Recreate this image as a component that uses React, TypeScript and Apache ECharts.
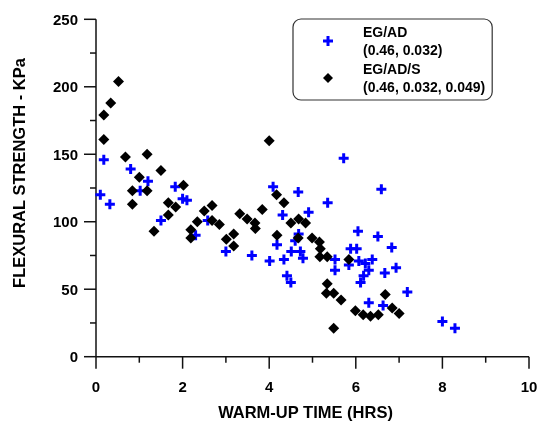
import React, { useEffect, useRef } from "react";
import * as echarts from "echarts";

const egadName = "EG/AD\n(0.46, 0.032)";
const egadsName = "EG/AD/S\n(0.46, 0.032, 0.049)";

const egadX = [0.1, 0.18, 0.32, 0.8, 1.02, 1.2, 1.5, 1.83, 2.0, 2.1, 2.3, 2.58, 3.0, 3.6, 4.01, 4.09, 4.18, 4.31, 4.34, 4.41, 4.5, 4.51, 4.6, 4.67, 4.68, 4.72, 4.78, 4.91, 5.35, 5.52, 5.52, 5.72, 5.84, 5.88, 6.02, 6.05, 6.07, 6.11, 6.18, 6.22, 6.3, 6.3, 6.38, 6.51, 6.59, 6.63, 6.67, 6.83, 6.93, 7.19, 8.0, 8.29];
const egadY = [120, 146, 113, 139, 123, 130, 101, 126, 117, 116, 90, 101, 78, 75, 71, 126, 83, 105, 72, 60, 55, 78, 86, 122, 91, 78, 73, 107, 114, 72, 64, 147, 68, 80, 80, 93, 71, 55, 60, 69, 64, 40, 72, 89, 124, 38, 62, 81, 66, 48, 26, 21];

const egadsX = [0.18, 0.18, 0.34, 0.52, 0.68, 0.84, 0.84, 1.0, 1.18, 1.18, 1.34, 1.5, 1.67, 1.67, 1.84, 2.02, 2.19, 2.19, 2.34, 2.5, 2.68, 2.68, 2.85, 3.01, 3.18, 3.18, 3.32, 3.49, 3.67, 3.68, 3.84, 4.0, 4.17, 4.18, 4.34, 4.5, 4.67, 4.68, 4.84, 4.99, 5.16, 5.18, 5.17, 5.34, 5.34, 5.32, 5.49, 5.49, 5.66, 5.84, 5.99, 6.17, 6.34, 6.52, 6.68, 6.84, 7.0];
const egadsY = [161, 179, 188, 204, 148, 123, 113, 133, 150, 123, 93, 138, 114, 105, 111, 127, 94, 88, 100, 108, 112, 101, 98, 87, 91, 82, 106, 102, 99, 95, 109, 160, 120, 90, 114, 99, 88, 102, 99, 88, 85, 80, 74, 74, 54, 47, 47, 21, 42, 72, 34, 31, 30, 31, 46, 36, 32];

const xMajorTicks = [0, 2, 4, 6, 8, 10];
const xMinorTicks = [1, 3, 5, 7, 9];
const yMajorTicks = [0, 50, 100, 150, 200, 250];
const yMinorTicks = [25, 75, 125, 175, 225];

const crossPath = "path://M3.5,0H6.5V3.5H10V6.5H6.5V10H3.5V6.5H0V3.5H3.5Z";
const FONT = "'Liberation Sans', Arial, sans-serif";
const AXIS_COLOR = "#111111";
const LW = 1.5;

export default function App() {
  const ref = useRef<HTMLDivElement>(null);
  useEffect(() => {
    if (!ref.current) return;
    const chart = echarts.init(ref.current, null, { renderer: "svg" });
    const labelStyle = { fontFamily: FONT, fontWeight: "bold", fontSize: 15, color: "#000" };
    const nameStyle = { fontFamily: FONT, fontWeight: "bold", fontSize: 16.5, color: "#000" };

    const renderAxes = (params: any, api: any) => {
      const o = api.coord([0, 0]);
      const c = api.coord([10, 250]);
      const seg = (x1: number, y1: number, x2: number, y2: number) => ({
        type: "line",
        shape: { x1, y1, x2, y2 },
        style: { stroke: AXIS_COLOR, lineWidth: LW, fill: null },
      });
      const children: any[] = [];
      children.push(seg(o[0], c[1], o[0], o[1]));
      children.push(seg(o[0], o[1], c[0], o[1]));
      xMajorTicks.forEach((v) => {
        const p = api.coord([v, 0]);
        children.push(seg(p[0], o[1], p[0], o[1] + 12));
      });
      xMinorTicks.forEach((v) => {
        const p = api.coord([v, 0]);
        children.push(seg(p[0], o[1], p[0], o[1] + 6));
      });
      yMajorTicks.forEach((v) => {
        const p = api.coord([0, v]);
        children.push(seg(o[0] - 12, p[1], o[0], p[1]));
      });
      yMinorTicks.forEach((v) => {
        const p = api.coord([0, v]);
        children.push(seg(o[0] - 6, p[1], o[0], p[1]));
      });
      return { type: "group", children };
    };

    chart.setOption({
      animation: false,
      grid: { left: 96, right: 8, top: 19.3, bottom: 67.3, containLabel: false, outerBoundsMode: "none" },
      legend: {
        data: [egadName, egadsName],
        orient: "vertical",
        left: 293,
        top: 19,
        padding: [4, 7, 4, 30],
        itemGap: 1,
        itemWidth: 10,
        itemHeight: 10,
        borderColor: "#333",
        borderWidth: 1.2,
        borderRadius: 8,
        textStyle: {
          fontFamily: FONT,
          fontWeight: "bold",
          fontSize: 14,
          lineHeight: 18,
          color: "#000",
          padding: [0, 0, 0, 25],
        },
      },
      xAxis: {
        type: "value",
        min: 0,
        max: 10,
        splitNumber: 5,
        name: "WARM-UP TIME (HRS)",
        nameLocation: "middle",
        nameGap: 47,
        nameTextStyle: { ...nameStyle, padding: [0, 14, 0, 0] },
        axisLabel: { margin: 22, ...labelStyle },
        axisLine: { show: false },
        axisTick: { show: false },
        splitLine: { show: false },
      },
      yAxis: {
        type: "value",
        min: 0,
        max: 250,
        splitNumber: 5,
        name: "FLEXURAL STRENGTH - KPa",
        nameLocation: "middle",
        nameRotate: 90,
        nameGap: 69,
        nameTextStyle: { ...nameStyle, padding: [0, 0, 0, 30] },
        axisLabel: { margin: 18, ...labelStyle },
        axisLine: { show: false },
        axisTick: { show: false },
        splitLine: { show: false },
      },
      series: [
        {
          name: "axes",
          type: "custom",
          coordinateSystem: "cartesian2d",
          silent: true,
          clip: false,
          z: 1,
          data: [[0, 0]],
          renderItem: renderAxes,
        },
        {
          name: egadName,
          type: "scatter",
          symbol: crossPath,
          symbolSize: 10,
          clip: false,
          itemStyle: { color: "#0000ff", opacity: 1 },
          data: egadX.map((x, i) => [x, egadY[i]]),
          z: 2,
        },
        {
          name: egadsName,
          type: "scatter",
          symbol: "diamond",
          symbolSize: 11,
          clip: false,
          itemStyle: { color: "#000000", opacity: 1 },
          data: egadsX.map((x, i) => [x, egadsY[i]]),
          z: 3,
        },
      ],
    });

    return () => chart.dispose();
  }, []);
  return <div ref={ref} style={{ position: "fixed", left: 0, top: 0, width: 537, height: 424 }} />;
}
